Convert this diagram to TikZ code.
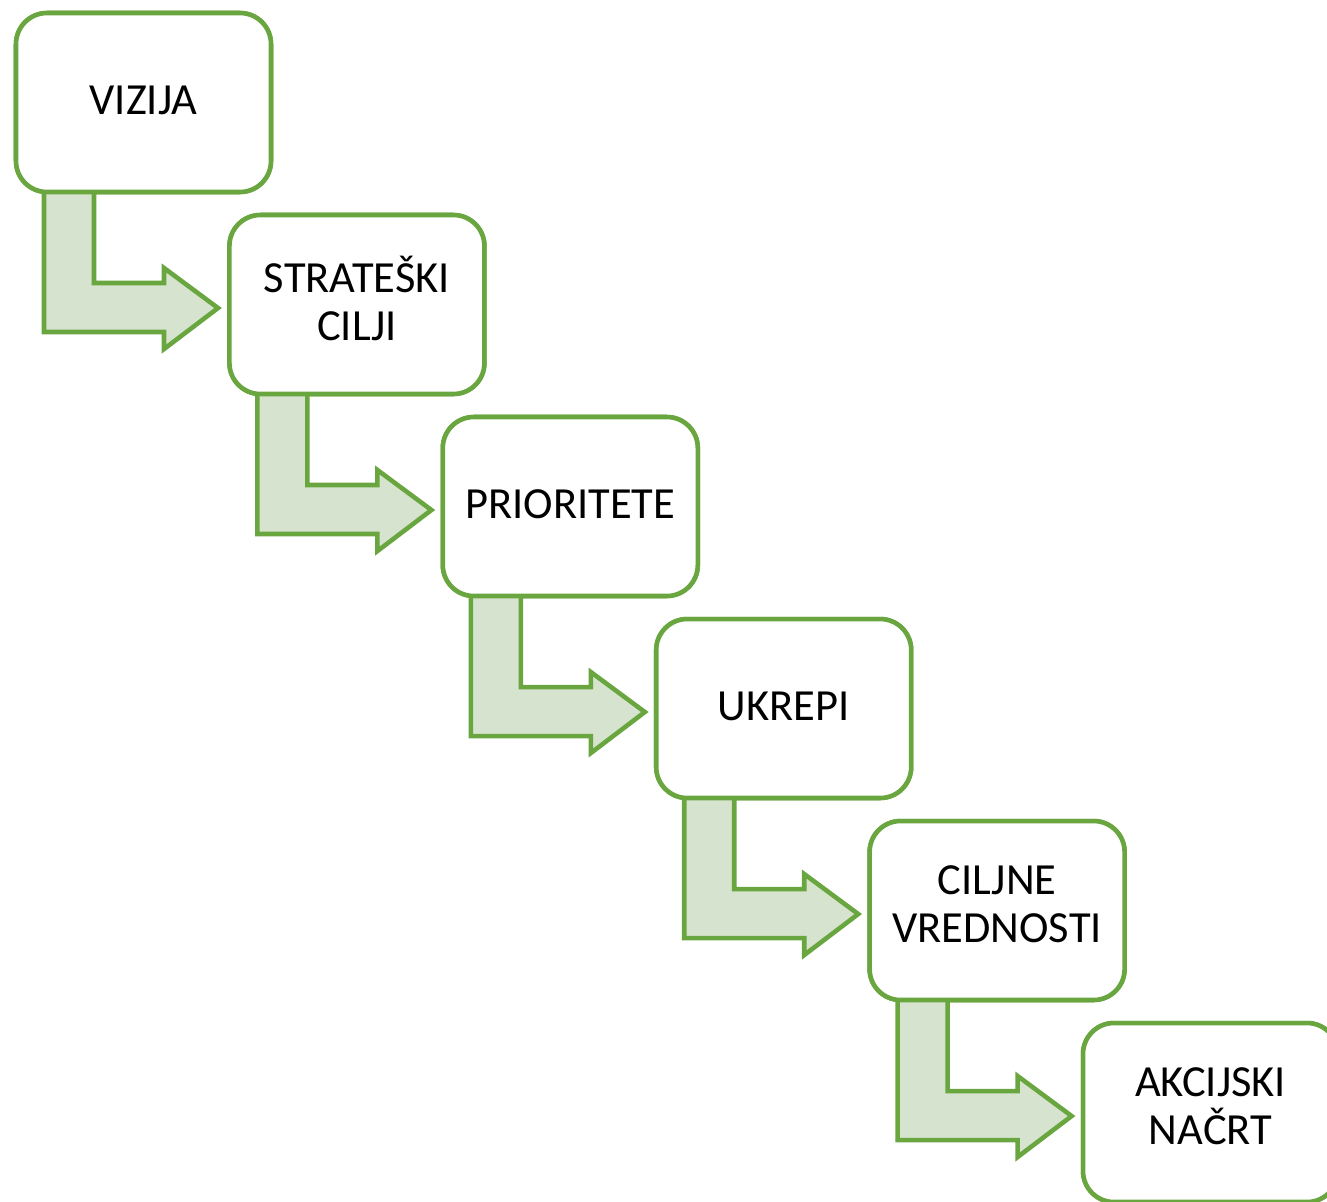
\documentclass[tikz,border=0pt]{standalone}
\usepackage{fontspec}
\setmainfont{Carlito}
\definecolor{gline}{HTML}{6AA640}
\definecolor{gfill}{HTML}{D6E4CF}
\begin{document}
\begin{tikzpicture}[x=0.02cm,y=-0.02cm,
  stepbox/.style={draw=gline,line width=2.6pt,fill=white,rounded corners=0.62cm,
    minimum width=5.1cm,minimum height=3.58cm,inner sep=0pt,outer sep=0pt},
  steptext/.style={inner sep=0pt,outer sep=0pt,align=center,
    font=\fontsize{25.3}{27.3}\selectfont},
  bentarrow/.style={draw=gline,fill=gfill,line width=2.6pt,line join=miter}]
\useasboundingbox (0,0) rectangle (1327,1201);
\foreach \i in {0,...,5}{
  \node[stepbox] (b\i) at ({143.5+213.4*\i},{102.5+202*\i}) {};
}
\foreach \i in {0,...,4}{
  \begin{scope}[shift={(b\i.north west)}]
    \draw[bentarrow] (28,179) -- (28,319) -- (148,319) -- (148,336) -- (202,295)
      -- (148,255) -- (148,270) -- (78,270) -- (78,179);
  \end{scope}
}
\foreach \i/\t/\s in {0/{VIZIJA}/1.2,1/{STRATEŠKI\\CILJI}/3.6,2/{PRIORITETE}/1.2,3/{UKREPI}/1.2,4/{CILJNE\\VREDNOSTI}/3.6,5/{AKCIJSKI\\NAČRT}/3.6}{
  \node[stepbox] (c\i) at (b\i) {};
  \node[steptext,yshift=\s pt] (t\i) at (c\i) {\t};
}
\end{tikzpicture}
\end{document}
